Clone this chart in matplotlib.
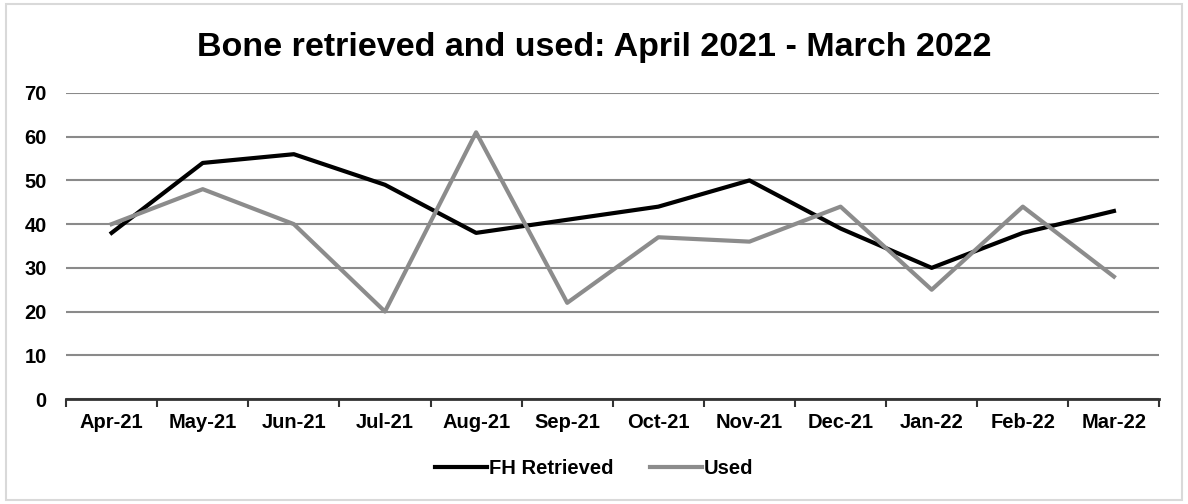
import matplotlib.pyplot as plt
from matplotlib.patches import Rectangle
import numpy as np

plt.rcParams['font.family'] = ['Liberation Sans', 'DejaVu Sans']

months = ['Apr-21', 'May-21', 'Jun-21', 'Jul-21', 'Aug-21', 'Sep-21',
          'Oct-21', 'Nov-21', 'Dec-21', 'Jan-22', 'Feb-22', 'Mar-22']
fh_retrieved = [38, 54, 56, 49, 38, 41, 44, 50, 39, 30, 38, 43]
used = [40, 48, 40, 20, 61, 22, 37, 36, 44, 25, 44, 28]

fig = plt.figure(figsize=(11.88, 5.04), dpi=100)
ax = fig.add_axes([0.0556, 0.2083, 0.9204, 0.6072])

x = np.arange(len(months))
ax.plot(x, fh_retrieved, color='black', lw=3, label='FH Retrieved', zorder=3)
ax.plot(x, used, color='#8c8c8c', lw=3, label='Used', zorder=3)

ax.set_xlim(-0.5, len(months) - 0.5)
ax.set_ylim(0, 70)
ax.set_yticks(range(0, 71, 10))
ax.yaxis.grid(True, color='#8a8a8a', lw=1.5)
ax.set_axisbelow(True)

# category ticks sit between the labels
ax.set_xticks(x)
ax.set_xticklabels(months, fontsize=14.5, fontweight='bold')
ax.set_xticks(np.arange(-0.5, len(months)), minor=True)
ax.tick_params(axis='x', which='major', length=0, pad=10)
ax.tick_params(axis='x', which='minor', length=6, width=1.5, color='#333333',
               direction='out')
ax.tick_params(axis='y', length=0, pad=14)
for lab in ax.get_yticklabels():
    lab.set_fontsize(14.5)
    lab.set_fontweight('bold')

for s in ['top', 'right', 'left']:
    ax.spines[s].set_visible(False)
ax.spines['bottom'].set_color('#333333')
ax.spines['bottom'].set_linewidth(2)

fig.text(0.5, 0.905, 'Bone retrieved and used: April 2021 - March 2022',
         ha='center', va='center', fontsize=24.5, fontweight='bold')

fig.legend(loc='center', bbox_to_anchor=(0.5, 0.07), ncol=2, frameon=False,
           prop={'size': 14.5, 'weight': 'bold'}, handlelength=2.6,
           handletextpad=0.1, columnspacing=1.8)

fig.patches.append(Rectangle((0.005, 0.008), 0.99, 0.984, transform=fig.transFigure,
                             fill=False, edgecolor='#d9d9d9', lw=1.5))

fig.savefig('out.png', dpi=100)
